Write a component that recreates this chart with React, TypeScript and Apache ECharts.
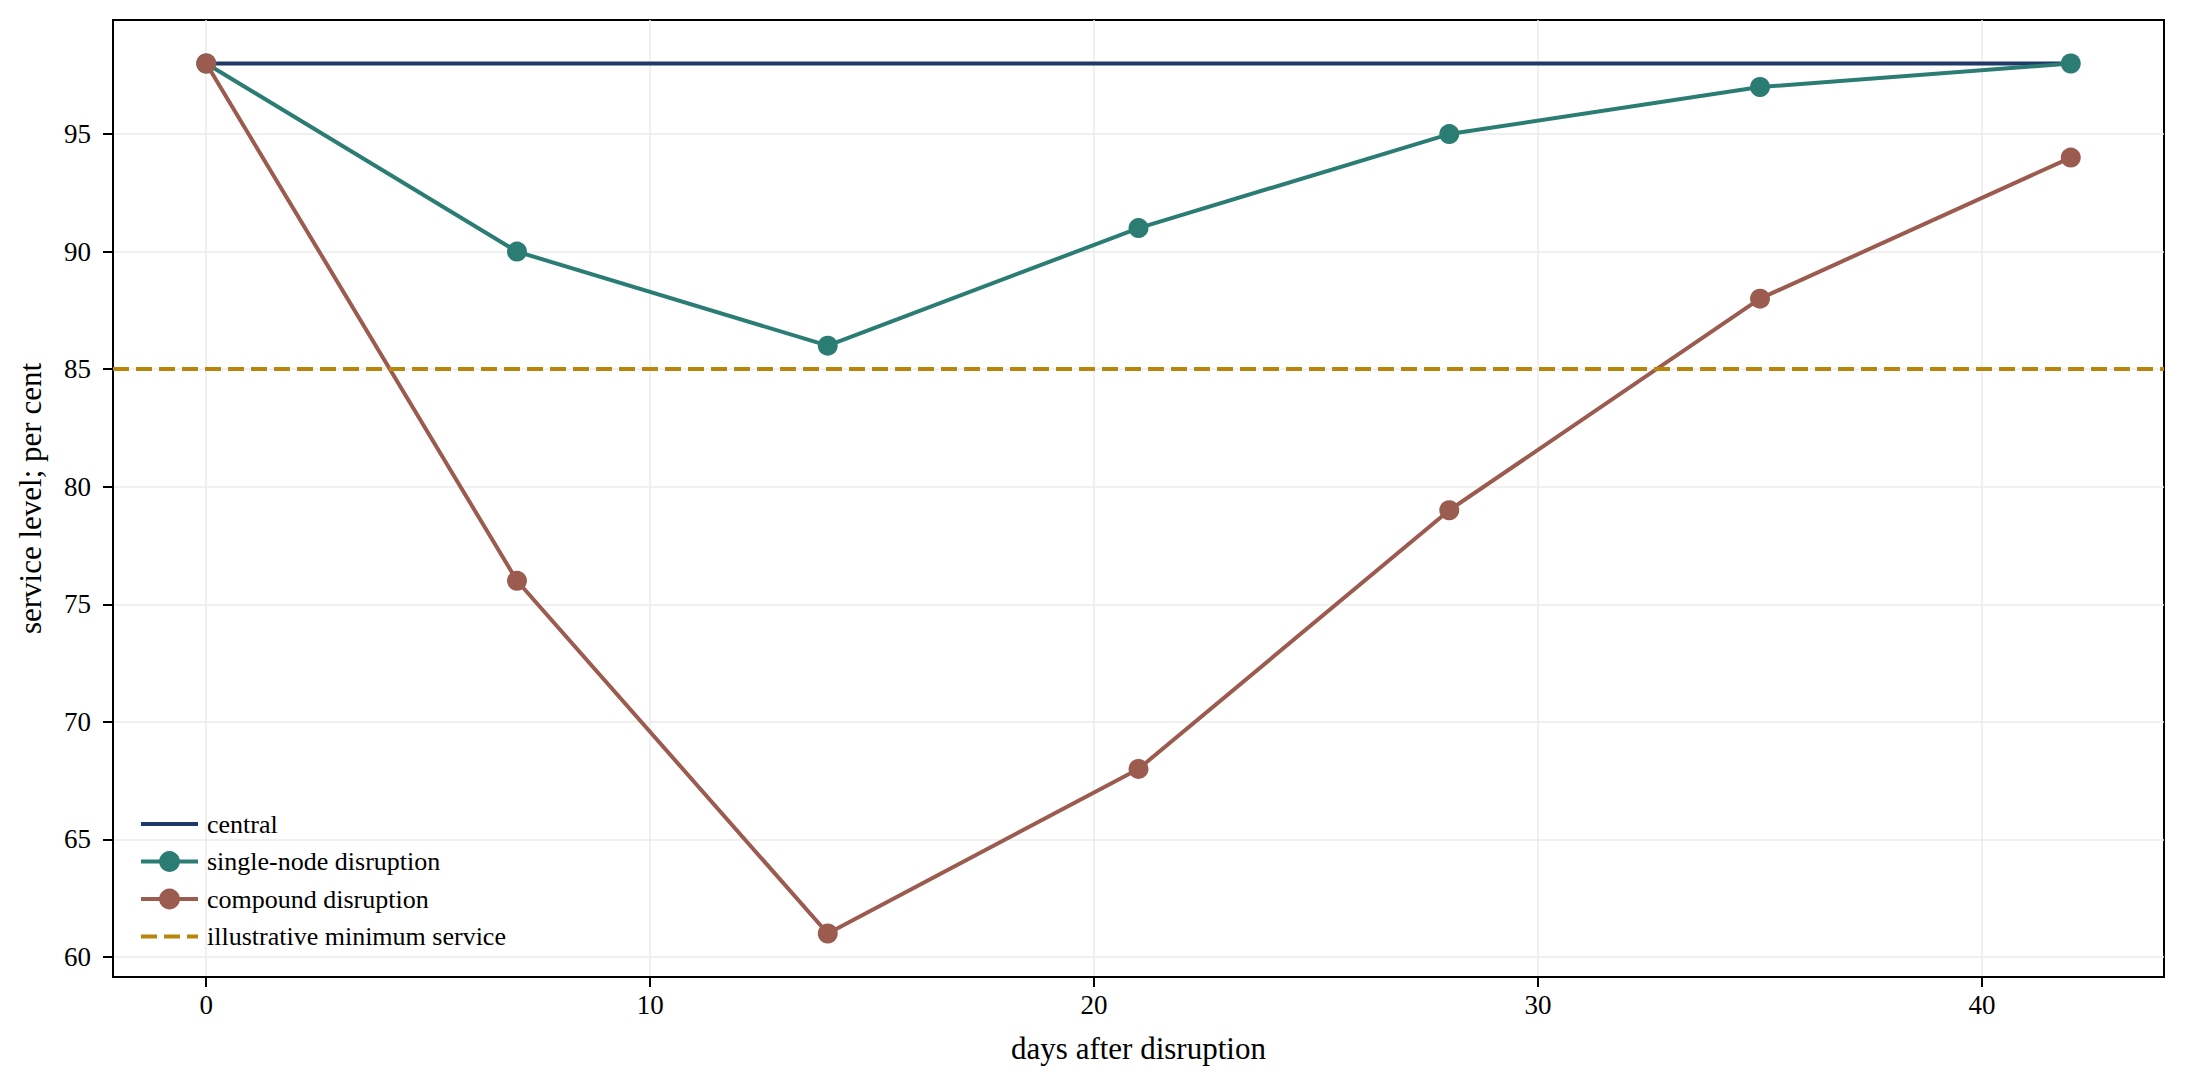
import { useEffect, useRef } from "react";
import * as echarts from "echarts";

const days = [0, 7, 14, 21, 28, 35, 42];
const central = [98, 98, 98, 98, 98, 98, 98];
const singleNode = [98, 90, 86, 91, 95, 97, 98];
const compound = [98, 76, 61, 68, 79, 88, 94];
const minimumService = 85;
const xTicks = [0, 10, 20, 30, 40];
const yTicks = [60, 65, 70, 75, 80, 85, 90, 95];

const FONT = "Liberation Serif";

const pairs = (ys: number[]) => days.map((d, i) => [d, ys[i]]);

export default function App() {
  const chartRef = useRef<HTMLDivElement>(null);

  useEffect(() => {
    const chart = echarts.init(chartRef.current, null, { renderer: "svg" });

    const axisCommon = {
      type: "value",
      axisLine: { show: true, onZero: false, lineStyle: { color: "#000", width: 2 } },
      axisTick: { show: true, length: 10, lineStyle: { color: "#000", width: 2 } },
      splitLine: { show: true, lineStyle: { color: "#ebebeb", width: 1.5 } },
      nameLocation: "middle",
      nameTextStyle: { fontFamily: FONT, fontSize: 31, color: "#000" },
    };

    const options = {
      animation: false,
      backgroundColor: "#fff",
      grid: { left: 113, right: 21, top: 20, bottom: 110, show: true, borderColor: "#000", borderWidth: 2 },
      xAxis: {
        ...axisCommon,
        min: -2.1,
        max: 44.1,
        name: "days after disruption",
        nameGap: 56,
        axisTick: { ...axisCommon.axisTick, customValues: xTicks },
        axisLabel: { customValues: xTicks, margin: 14, fontFamily: FONT, fontSize: 27, color: "#000" },
      },
      yAxis: {
        ...axisCommon,
        min: 59.15,
        max: 99.85,
        name: "service level; per cent",
        nameGap: 67,
        axisTick: { ...axisCommon.axisTick, customValues: yTicks },
        axisLabel: { customValues: yTicks, margin: 22, fontFamily: FONT, fontSize: 27, color: "#000" },
      },
      legend: {
        left: 134,
        top: 806,
        orient: "vertical",
        itemWidth: 57,
        itemHeight: 26,
        itemGap: 11.5,
        lineStyle: { width: 4 },
        textStyle: { fontFamily: FONT, fontSize: 26, color: "#000", padding: [0, 0, 0, 4] },
        data: [
          { name: "central", itemStyle: { opacity: 0 } },
          { name: "single-node disruption" },
          { name: "compound disruption" },
          { name: "illustrative minimum service", itemStyle: { opacity: 0 } },
        ],
      },
      series: [
        {
          name: "central",
          type: "line",
          data: pairs(central),
          symbol: "none",
          lineStyle: { color: "#1f3a68", width: 4 },
          itemStyle: { color: "#1f3a68" },
        },
        {
          name: "single-node disruption",
          type: "line",
          data: pairs(singleNode),
          symbol: "circle",
          symbolSize: 20,
          lineStyle: { color: "#2b7d74", width: 4 },
          itemStyle: { color: "#2b7d74" },
        },
        {
          name: "compound disruption",
          type: "line",
          data: pairs(compound),
          symbol: "circle",
          symbolSize: 20,
          lineStyle: { color: "#9b5b4e", width: 4 },
          itemStyle: { color: "#9b5b4e" },
        },
        {
          name: "illustrative minimum service",
          type: "line",
          data: [],
          symbol: "none",
          lineStyle: { color: "#b8860b", width: 4, type: [16, 7] },
          itemStyle: { color: "#b8860b" },
          markLine: {
            silent: true,
            symbol: "none",
            label: { show: false },
            lineStyle: { color: "#b8860b", width: 4, type: [16, 7] },
            data: [{ yAxis: minimumService }],
          },
        },
      ],
    };

    chart.setOption(options);

    return () => {
      chart.dispose();
    };
  }, []);

  return (
    <div
      ref={chartRef}
      style={{ position: "fixed", left: 0, top: 0, width: "2185px", height: "1087px" }}
    />
  );
}
